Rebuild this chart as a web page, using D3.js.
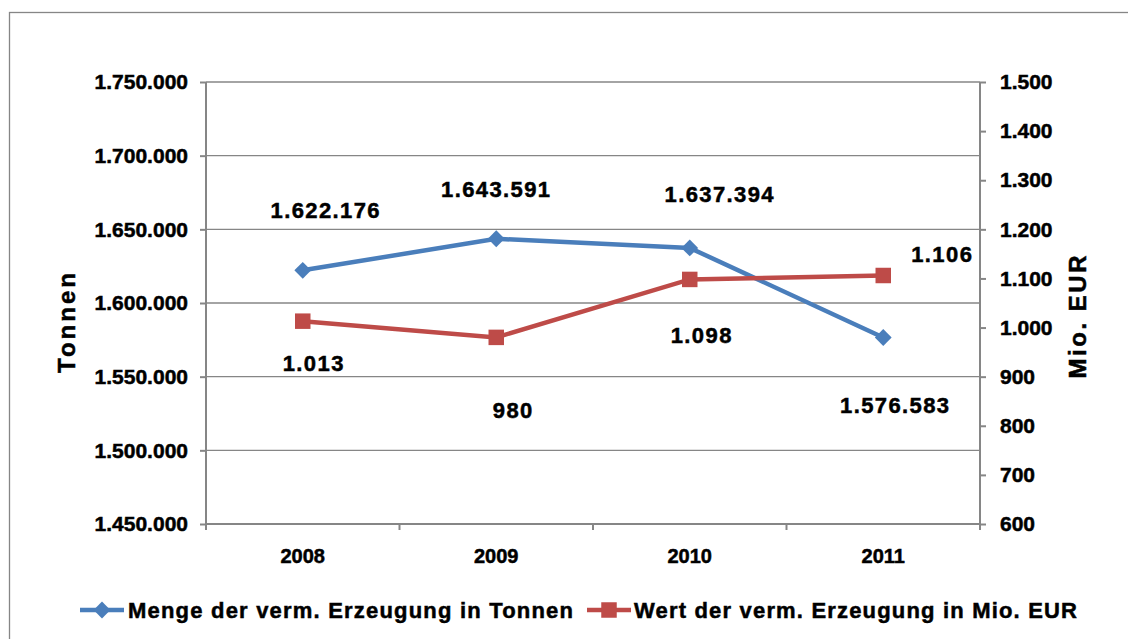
<!DOCTYPE html>
<html>
<head>
<meta charset="utf-8">
<script src="https://cdn.jsdelivr.net/npm/d3@7"></script>
<style>
  html, body { margin: 0; padding: 0; background: #fff; }
  svg { display: block; font-family: "Liberation Sans", Arial, sans-serif; font-weight: bold; }
  svg text { stroke: #000; stroke-width: 0.5px; }
</style>
</head>
<body>
<div class="chart"></div>
<script>
// data
const years = ["2008", "2009", "2010", "2011"];
const tonnen = [1622176, 1643591, 1637394, 1576583];
const mioEur = [1013, 980, 1098, 1106];
const leftTicks = [1450000, 1500000, 1550000, 1600000, 1650000, 1700000, 1750000];
const rightTicks = [600, 700, 800, 900, 1000, 1100, 1200, 1300, 1400, 1500];
const seriesNames = ["Menge der verm. Erzeugung in Tonnen", "Wert der verm. Erzeugung in Mio. EUR"];

// label offsets from the point (px), as placed in the original
const tonnenLabelOffset = [[23, -52], [0, -42], [30, -46], [12, 75]];
const eurLabelOffset = [[11, 50], [17, 81], [12, 64], [59, -13]];

const width = 1128, height = 639;
const margin = { top: 82, right: 148, bottom: 115, left: 206 };
const blue = "#4a7ebb", red = "#be4b48", grey = "#868686";

const fmt = d3.formatLocale({ decimal: ",", thousands: ".", grouping: [3] }).format(",d");

const svg = d3.select(".chart").append("svg")
  .attr("width", width)
  .attr("height", height);

// outer frame
svg.append("rect")
  .attr("x", 9.5).attr("y", 12.5)
  .attr("width", 1130).attr("height", 700)
  .attr("fill", "none")
  .attr("stroke", grey)
  .attr("stroke-width", 1.3);

const x = d3.scaleBand()
  .domain(years)
  .range([margin.left, width - margin.right]);

const yL = d3.scaleLinear()
  .domain([1450000, 1750000])
  .range([height - margin.bottom, margin.top]);

const yR = d3.scaleLinear()
  .domain([600, 1500])
  .range([height - margin.bottom, margin.top]);

// gridlines
svg.append("g")
  .selectAll("line")
  .data(leftTicks.slice(1))
  .join("line")
  .attr("x1", margin.left).attr("x2", width - margin.right)
  .attr("y1", d => yL(d)).attr("y2", d => yL(d))
  .attr("stroke", grey).attr("stroke-width", 1.3);

// left axis
const gL = svg.append("g")
  .attr("transform", `translate(${margin.left},0)`)
  .call(d3.axisLeft(yL).tickValues(leftTicks).tickFormat(fmt).tickSize(6).tickPadding(12));

// right axis
const gR = svg.append("g")
  .attr("transform", `translate(${width - margin.right},0)`)
  .call(d3.axisRight(yR).tickValues(rightTicks).tickFormat(fmt).tickSize(6).tickPadding(14));

// bottom axis, ticks between categories
const gB = svg.append("g")
  .attr("transform", `translate(0,${height - margin.bottom})`)
  .call(d3.axisBottom(x).tickSize(0).tickPadding(25));

gB.selectAll(".sep")
  .data(d3.range(years.length + 1))
  .join("line")
  .attr("class", "sep")
  .attr("x1", i => margin.left + i * x.step())
  .attr("x2", i => margin.left + i * x.step())
  .attr("y1", 0).attr("y2", 6)
  .attr("stroke", grey).attr("stroke-width", 2);

[gL, gR, gB].forEach(g => {
  g.select(".domain").attr("stroke", grey).attr("stroke-width", 2);
  g.selectAll(".tick line").attr("stroke", grey).attr("stroke-width", 2);
  g.selectAll(".tick text")
    .attr("fill", "#000")
    .style("font-size", "21px")
    .style("font-family", "'Liberation Sans', Arial, sans-serif")
    .style("font-weight", "bold");
});
gB.selectAll(".tick text").style("font-size", "20px");
gB.select(".domain").attr("d", `M${margin.left},0H${width - margin.right}`);
gL.select(".domain").attr("d", `M0,${margin.top}V${height - margin.bottom}`);
gR.select(".domain").attr("d", `M0,${margin.top}V${height - margin.bottom}`);

// axis titles
svg.append("text")
  .attr("transform", `translate(75,323) rotate(-90)`)
  .attr("text-anchor", "middle")
  .attr("textLength", 100)
  .attr("lengthAdjust", "spacing")
  .style("font-size", "24px")
  .text("Tonnen");

svg.append("text")
  .attr("transform", `translate(1086,317) rotate(-90)`)
  .attr("text-anchor", "middle")
  .attr("textLength", 123)
  .attr("lengthAdjust", "spacing")
  .style("font-size", "24px")
  .text("Mio. EUR");

const cx = d => x(d) + x.bandwidth() / 2;

// lines
const lineL = d3.line().x((d, i) => cx(years[i])).y(d => yL(d));
const lineR = d3.line().x((d, i) => cx(years[i])).y(d => yR(d));

svg.append("path")
  .datum(tonnen)
  .attr("d", lineL)
  .attr("fill", "none")
  .attr("stroke", blue)
  .attr("stroke-width", 4.5);

svg.append("path")
  .datum(mioEur)
  .attr("d", lineR)
  .attr("fill", "none")
  .attr("stroke", red)
  .attr("stroke-width", 4.5);

const diamond = d3.symbol().type(d3.symbolDiamond2).size(180);
const square = d3.symbol().type(d3.symbolSquare).size(240);

svg.append("g")
  .selectAll("path")
  .data(tonnen)
  .join("path")
  .attr("transform", (d, i) => `translate(${cx(years[i])},${yL(d)})`)
  .attr("d", diamond)
  .attr("fill", blue);

svg.append("g")
  .selectAll("path")
  .data(mioEur)
  .join("path")
  .attr("transform", (d, i) => `translate(${cx(years[i])},${yR(d)})`)
  .attr("d", square)
  .attr("fill", red);

// data labels
svg.append("g")
  .selectAll("text")
  .data(tonnen)
  .join("text")
  .attr("x", (d, i) => cx(years[i]) + tonnenLabelOffset[i][0])
  .attr("y", (d, i) => yL(d) + tonnenLabelOffset[i][1])
  .attr("text-anchor", "middle")
  .style("font-size", "22px")
  .style("letter-spacing", "1.4px")
  .text(d => fmt(d));

svg.append("g")
  .selectAll("text")
  .data(mioEur)
  .join("text")
  .attr("x", (d, i) => cx(years[i]) + eurLabelOffset[i][0])
  .attr("y", (d, i) => yR(d) + eurLabelOffset[i][1])
  .attr("text-anchor", "middle")
  .style("font-size", "22px")
  .style("letter-spacing", "1.4px")
  .text(d => fmt(d));

// legend
const legend = svg.append("g").attr("transform", "translate(0,610)");
const legendItems = [
  { name: seriesNames[0], color: blue, sym: diamond, x0: 80, tx: 128, len: 445 },
  { name: seriesNames[1], color: red, sym: square, x0: 587, tx: 634, len: 443 }
];
legendItems.forEach(it => {
  legend.append("line")
    .attr("x1", it.x0).attr("x2", it.x0 + 44)
    .attr("y1", 0).attr("y2", 0)
    .attr("stroke", it.color).attr("stroke-width", 4.5);
  legend.append("path")
    .attr("transform", `translate(${it.x0 + 22},0)`)
    .attr("d", it.sym)
    .attr("fill", it.color);
  legend.append("text")
    .attr("x", it.tx).attr("y", 8)
    .attr("textLength", it.len)
    .attr("lengthAdjust", "spacing")
    .style("font-size", "22px")
    .text(it.name);
});
</script>
</body>
</html>
